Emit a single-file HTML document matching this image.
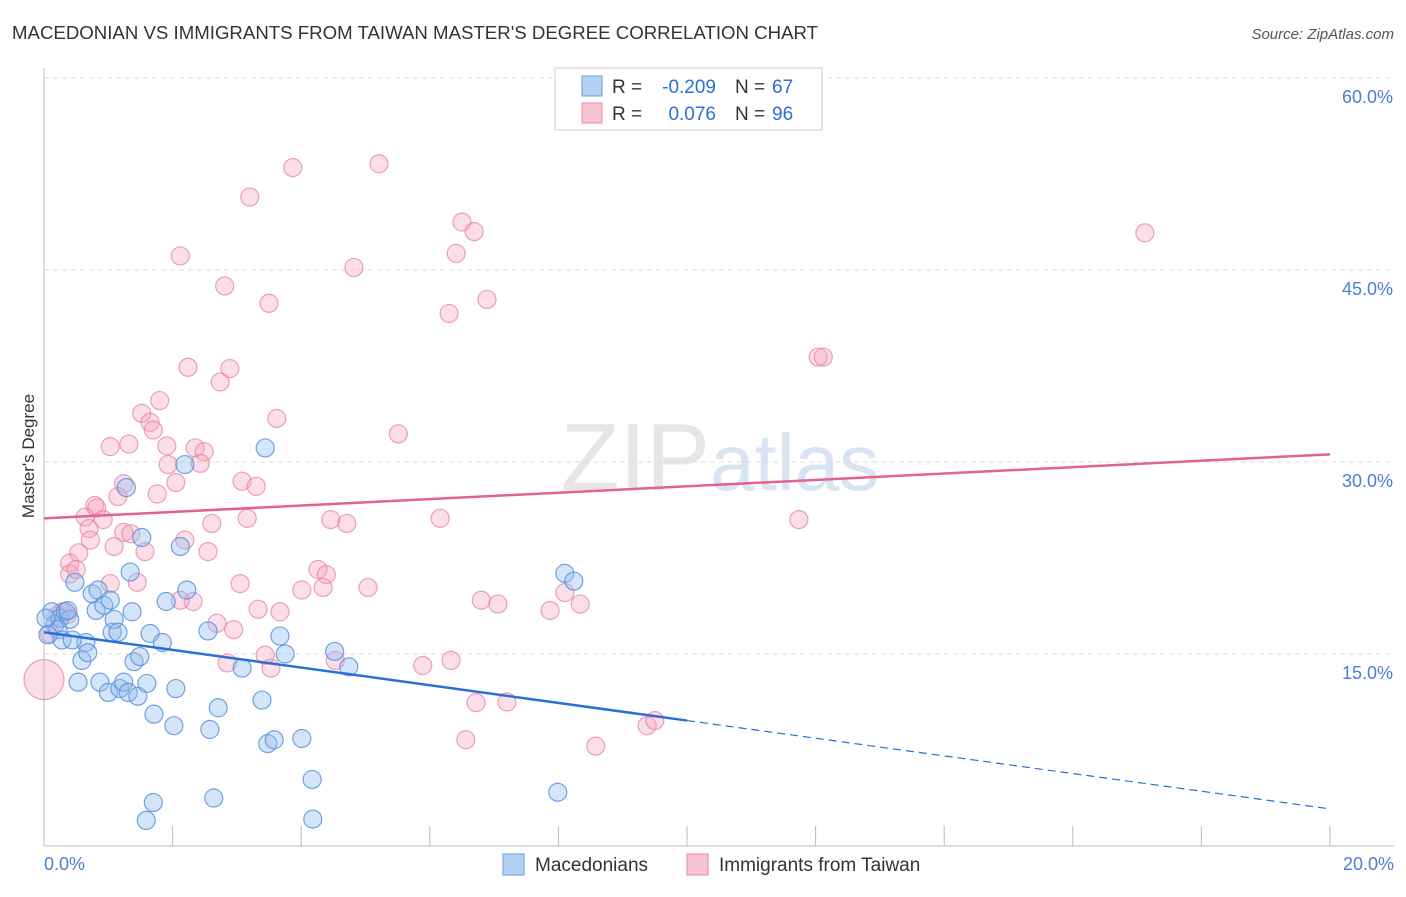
<!DOCTYPE html>
<html><head><meta charset="utf-8"><style>
body{margin:0;background:#fff;font-family:"Liberation Sans",sans-serif}
svg text{font-family:"Liberation Sans",sans-serif}
</style></head><body>
<svg id="c" width="1406" height="892" xmlns="http://www.w3.org/2000/svg">
<text x="12" y="39" font-size="18" fill="#333" textLength="806" lengthAdjust="spacingAndGlyphs">MACEDONIAN VS IMMIGRANTS FROM TAIWAN MASTER'S DEGREE CORRELATION CHART</text>
<text x="1394" y="39" font-size="15" fill="#555" text-anchor="end" font-style="italic">Source: ZipAtlas.com</text>
<text x="720" y="490" font-size="96" text-anchor="middle" fill="#e6e6e6" font-family="Liberation Serif"><tspan>ZIP</tspan><tspan fill="#d8e4f4" font-family="Liberation Sans" font-size="80">atlas</tspan></text>
<g id="grid"></g><g id="pts"></g><g id="lines"></g>
<text transform="translate(34,456) rotate(-90)" font-size="17" fill="#333" text-anchor="middle">Master's Degree</text>
<g>
<rect x="555" y="68" width="267" height="62" fill="#fff" stroke="#ccc"/>
<rect x="582" y="76" width="20" height="20" fill="#b5d0f5" stroke="#6b9be0"/>
<rect x="582" y="103" width="20" height="20" fill="#f8c4d4" stroke="#e88aa8"/>
<text x="612" y="93" font-size="19" fill="#333">R =</text>
<text x="716" y="93" font-size="19" fill="#2b6fd4" text-anchor="end">-0.209</text>
<text x="735" y="93" font-size="19" fill="#333">N =</text>
<text x="772" y="93" font-size="19" fill="#2b6fd4">67</text>
<text x="612" y="120" font-size="19" fill="#333">R =</text>
<text x="716" y="120" font-size="19" fill="#2b6fd4" text-anchor="end">0.076</text>
<text x="735" y="120" font-size="19" fill="#333">N =</text>
<text x="772" y="120" font-size="19" fill="#2b6fd4">96</text>
</g>
<g>
<rect x="503" y="854" width="21" height="21" fill="#b5d0f5" stroke="#6b9be0"/>
<text x="535" y="871" font-size="19" fill="#333">Macedonians</text>
<rect x="687" y="854" width="21" height="21" fill="#f8c4d4" stroke="#e88aa8"/>
<text x="719" y="871" font-size="19" fill="#333">Immigrants from Taiwan</text>
</g>
</svg>
<script>
const xTicks=[0,2,4,6,8,10,12,14,16,18,20];
const yTicks=[15,30,45,60];
const blueX=[0.12,0.17,0.25,0.33,0.40,0.37,0.22,0.48,0.53,0.59,0.65,0.68,0.75,0.81,0.84,0.87,0.93,1.0,1.06,1.09,1.15,1.18,1.24,1.28,1.31,1.34,1.4,1.46,1.49,1.52,1.6,1.65,1.71,1.7,1.59,1.84,1.9,2.02,2.05,2.12,2.19,2.22,2.58,2.55,2.64,2.71,3.08,3.39,3.44,3.48,3.58,3.67,3.75,4.01,4.17,4.18,4.52,4.74,7.99,8.1,8.24,0.03,0.06,0.28,0.44,1.03,1.37];
const blueY=[18.3,17.3,17.8,18.3,17.7,18.4,16.9,20.6,12.8,14.5,15.9,15.1,19.7,18.4,20.0,12.8,18.8,12.0,16.7,17.7,16.7,12.3,12.8,28.0,12.0,21.4,14.4,11.7,14.8,24.1,12.7,16.6,10.3,3.4,2.0,15.9,19.1,9.4,12.3,23.4,29.8,20.0,9.1,16.8,3.75,10.8,13.9,11.4,31.1,8.0,8.3,16.4,15.0,8.4,5.2,2.1,15.2,14.0,4.2,21.3,20.7,17.8,16.5,16.1,16.1,19.2,18.3];
const pinkX=[3.87,5.21,3.2,2.12,2.81,3.5,4.82,6.5,6.69,6.41,6.3,6.89,17.12,2.24,2.89,2.74,12.04,12.12,1.8,1.52,1.65,1.7,3.62,1.03,1.32,1.91,2.35,2.49,1.93,2.43,5.51,1.24,2.05,3.08,3.3,1.15,0.79,0.82,0.92,0.64,1.76,2.61,3.16,4.46,4.71,6.16,11.74,0.7,1.24,1.35,1.09,0.72,1.57,2.55,2.19,0.54,0.4,0.4,0.5,1.45,3.05,4.26,4.39,4.34,4.01,5.04,2.32,3.33,3.67,2.69,2.95,6.8,7.06,7.87,8.1,8.34,3.44,3.53,2.85,4.53,5.89,6.33,6.72,7.2,6.56,8.58,9.38,9.5,1.03,0.37,0.28,0.2,0.09,0.0,2.12];
const pinkY=[53.0,53.3,50.7,46.1,43.75,42.4,45.2,48.75,48.0,46.3,41.6,42.7,47.9,37.4,37.3,36.25,38.2,38.2,34.8,33.8,33.1,32.5,33.4,31.2,31.4,31.25,31.1,30.8,29.8,29.9,32.2,28.3,28.4,28.5,28.1,27.3,26.6,26.4,25.5,25.7,27.5,25.2,25.6,25.5,25.2,25.6,25.5,24.8,24.5,24.4,23.4,23.9,23.0,23.0,23.9,22.9,22.1,21.25,21.6,20.6,20.5,21.6,21.2,20.2,20.0,20.2,19.1,18.5,18.3,17.4,16.9,19.2,18.9,18.4,19.8,18.9,14.9,13.9,14.3,14.5,14.1,14.5,11.2,11.25,8.3,7.8,9.4,9.8,20.5,18.1,18.3,18.0,16.6,13.0,19.2];
const pinkBig=[93];
const blueTrend=[16.7,-0.69];
const pinkTrend=[25.6,0.25];
const NS="http://www.w3.org/2000/svg";
const X=v=>44+v*64.3, Y=v=>846-v*12.8;
function mk(t,a,p){const e=document.createElementNS(NS,t);for(const k in a)e.setAttribute(k,a[k]);p.appendChild(e);return e;}
const grid=document.getElementById('grid'),pts=document.getElementById('pts'),lines=document.getElementById('lines');
const xa=mk('line',{x1:44,y1:846,x2:1394,y2:846,stroke:'#bbb'},grid);


const ya=mk('line',{x1:44,y1:68,x2:44,y2:846,stroke:'#bbb'},grid);


xTicks.forEach((t,i)=>{if(i>0){const l=mk('line',{x1:X(t),y1:826,x2:X(t),y2:846,stroke:'#bbb'},grid);

}});
[[0,'0.0%',44,'start'],[20,'20.0%',1394,'end']].forEach(d=>{const t=mk('text',{x:d[2],y:870,'font-size':18,fill:'#4a7fd4','text-anchor':d[3]},grid);t.textContent=d[1];

});
yTicks.forEach(v=>{const l=mk('line',{x1:44,y1:Y(v),x2:1394,y2:Y(v),stroke:'#ddd','stroke-dasharray':'5,4'},grid);


const t=mk('text',{x:1393,y:Y(v)+25,'font-size':18,fill:'#4a7fd4','text-anchor':'end'},grid);t.textContent=v.toFixed(1)+'%';

});
pinkX.forEach((x,i)=>{const c=mk('circle',{cx:X(x),cy:Y(pinkY[i]),r:pinkBig.includes(i)?20:9,fill:'rgba(245,160,188,0.35)',stroke:'rgba(230,130,165,0.75)','stroke-width':1.2},pts);

});
blueX.forEach((x,i)=>{const c=mk('circle',{cx:X(x),cy:Y(blueY[i]),r:9,fill:'rgba(150,190,240,0.4)',stroke:'rgba(80,140,220,0.8)','stroke-width':1.2},pts);

});
const bt=v=>blueTrend[0]+blueTrend[1]*v, pt=v=>pinkTrend[0]+pinkTrend[1]*v;
const l1=mk('line',{x1:X(0),y1:Y(bt(0)),x2:X(10),y2:Y(bt(10)),stroke:'#2b6fd4','stroke-width':2.5},lines);


const l2=mk('line',{x1:X(10),y1:Y(bt(10)),x2:X(20),y2:Y(bt(20)),stroke:'#2b6fd4','stroke-width':1.2,'stroke-dasharray':'8,5'},lines);


const l3=mk('line',{x1:X(0),y1:Y(pt(0)),x2:X(20),y2:Y(pt(20)),stroke:'#e0628e','stroke-width':2.5},lines);


</script>
</body></html>
